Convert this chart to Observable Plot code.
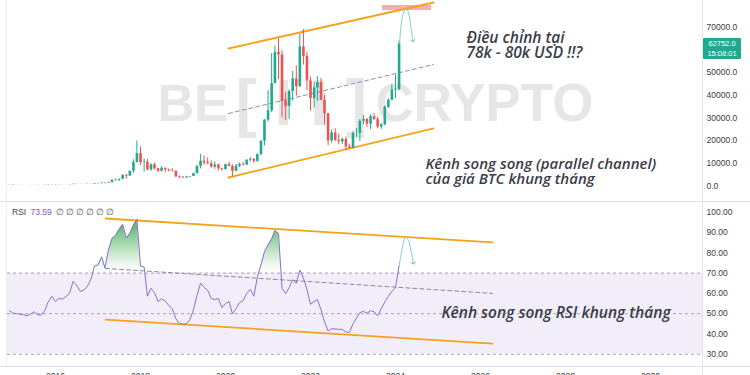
<!DOCTYPE html>
<html><head><meta charset="utf-8">
<script src="https://cdn.jsdelivr.net/npm/d3@7"></script>
<script src="https://cdn.jsdelivr.net/npm/@observablehq/plot@0.6"></script>
<style>
html,body{margin:0;padding:0;background:#fff;overflow:hidden;width:750px;height:375px}
#wrap{position:relative;width:750px;height:375px;overflow:hidden;background:#fff}
#wrap svg{position:absolute;left:0;overflow:visible}
.ln{position:absolute;background:#e0e3eb}
</style></head><body><div id="wrap"></div>
<script>
// ---------- DATA (monthly BTC/USD, Dec 2014 .. Feb 2024) ----------
const firstMonth = "2014-12";
const lastMonth = "2024-02";
const open = [378,320,217,254,244,236,230,263,284,230,236,314,378,430,369,437,416,448,531,673,624,575,609,701,742,964,970,1190,1080,1348,2300,2480,2875,4703,4338,6468,10233,14156,10221,10397,6973,9240,7494,6404,7780,7037,6625,6371,4017,3742,3457,3854,4105,5350,8574,10817,10085,9630,8293,9199,7569,7193,9350,8543,6424,8658,9461,9138,11323,11680,10784,13804,19700,28990,33114,45137,58918,57750,37332,35040,41626,47166,43790,61318,57005,46306,38483,43193,45538,37714,31792,19785,23336,20050,19431,20495,17168,16547,23139,23147,28478,29268,27219,30477,29230,25940,26967,34667,37712,42265,42580];
const high = [382,320,265,300,262,247,268,315,285,247,330,502,465,462,448,440,467,548,775,703,627,628,720,755,980,1162,1210,1295,1350,2790,2980,2925,4750,5000,6470,11500,19800,17200,11800,11700,9760,10000,7760,8500,7800,7410,7680,6600,4300,4110,4200,4140,5620,9100,13880,13200,12330,10950,10540,9530,7750,9580,10500,9190,9460,10070,10380,11440,12480,12070,14100,19860,29300,41950,58350,61780,64900,59600,41300,42400,50500,52900,67000,69000,59040,47990,45820,48190,47440,39980,31980,24670,25210,22800,21090,21480,18390,23960,25250,29190,31000,29820,31430,31800,30230,27480,35200,38430,44730,48970,64000];
const low = [310,170,212,236,215,228,220,254,198,225,236,310,345,353,366,406,416,438,528,605,535,570,605,693,740,752,940,890,1060,1350,2100,1830,2680,2980,4110,5500,10900,9000,6000,6600,6430,7000,5780,6080,5880,6100,6200,3550,3150,3350,3370,3850,4040,5350,7450,9070,9320,7710,7300,6515,6430,6870,8450,3850,6150,8120,8900,8900,10530,9880,10380,13220,17570,28130,32300,44950,47000,30000,28800,29300,37330,39600,43300,53300,42000,32950,34320,37160,37580,26700,17620,18780,19520,18130,18190,15480,16260,16500,21400,19570,26940,25810,24800,28860,25170,24900,26540,34100,37620,38560,41880];
const close = [320,217,254,244,236,230,263,284,230,236,314,378,430,369,437,416,448,531,673,624,575,609,701,742,964,970,1190,1080,1348,2300,2480,2875,4703,4338,6468,10233,14156,10221,10397,6973,9240,7494,6404,7780,7037,6625,6371,4017,3742,3457,3854,4105,5350,8574,10817,10085,9630,8293,9199,7569,7193,9350,8543,6424,8658,9461,9138,11323,11680,10784,13804,19700,28990,33114,45137,58918,57750,37332,35040,41626,47166,43790,61318,57005,46306,38483,43193,45538,37714,31792,19785,23336,20050,19431,20495,17168,16547,23139,23147,28478,29268,27219,30477,29230,25940,26967,34667,37712,42265,42580,62752];
const rsi = [51.5,50.2,50,49.8,49.5,49,49.8,51,49.5,49.3,51.5,56,58.5,56,57.6,57.2,58.5,60,66,64,61,61.5,63.5,67,73.5,74,78,72.5,81.5,87,88.5,91.5,94,87.3,89.5,93.5,96.5,73.4,73,58.6,62.5,60.3,56,57.3,56.3,54,52.5,47.5,45.3,44.7,45.2,47,52,59,65,63,61.5,57.5,57,57.5,53,55,56,50,52.5,55.5,56.5,60,62,58.6,68,74,80.5,84,86.7,91,89.5,62.5,60,62.8,66.8,65,71.5,67.5,62,54.6,56,57,52,46,41.5,42.6,42.5,42.3,42.3,41,40.8,45,48,50.5,51.2,50.2,51.5,51,48.9,52.5,55.8,58.5,61,62.8,73.59];
const rsiNow = "73.59";
const lastPrice = "62752.0";
const countdown = "15:08:01";

// channels & annotations (year fraction, value)
const priceUpper = [[2020.07, 60618], [2024.894, 80927]];
const priceLower = [[2020.07, 3664], [2024.894, 25298]];
const priceMid = [[2020.07, 31920], [2024.894, 53554]];
const targetZone = {x1: 2023.694, x2: 2024.847, y1: 77400, y2: 79600};
const priceProjection = [[2024.096, 62752], [2024.13, 70400], [2024.18, 75800], [2024.25, 78500], [2024.31, 76100], [2024.36, 70400], [2024.41, 64000]];
const rsiUpper = [[2017.176, 96.9], [2026.282, 85.1]];
const rsiLower = [[2017.176, 47.1], [2026.282, 35.3]];
const rsiMid = [[2017.176, 72.3], [2026.282, 60.0]];
const rsiProjection = [[2024.085, 73.59], [2024.141, 80.1], [2024.188, 85.1], [2024.235, 87.5], [2024.306, 86.1], [2024.365, 81.1], [2024.42, 74.9]];
const priceTicks = [0, 10000, 20000, 30000, 40000, 50000, 70000];
const rsiTicks = [30, 40, 50, 60, 70, 80, 90, 100];
const rsiLevels = [70, 50, 30];
const yearTicks = [2016, 2018, 2020, 2022, 2024, 2026, 2028, 2030];
const annPrice1 = ["Điều chỉnh tại", "78k - 80k USD !!?"];
const annPrice2 = ["Kênh song song (parallel channel)", "của giá BTC khung tháng"];
const annRsi = "Kênh song song RSI khung tháng";

// ---------- helpers ----------
function yr(y){const Y=Math.floor(y);const a=Date.UTC(Y,0,1),b=Date.UTC(Y+1,0,1);return new Date(a+(y-Y)*(b-a));}
const pts = arr => arr.map(([t,v]) => ({date: yr(t), v}));
const months = d3.utcMonth.range(new Date(firstMonth+"-01"), d3.utcMonth.offset(new Date(lastMonth+"-01"),1));
const candles = months.map((date,i)=>({date,o:open[i],h:high[i],l:low[i],c:close[i],r:rsi[i]}));
const GREEN="#22a88f", RED="#ef5350", ORANGE="#f7a11a";
const xDomain=[yr(2014.8706), yr(2031.2235)];
const font="Liberation Sans, Arial, sans-serif";
const annFont="Open Sans, DejaVu Sans, sans-serif";
const wrap=document.getElementById("wrap");
const annStyle={textAnchor:"start",lineAnchor:"bottom",fontStyle:"italic",fontWeight:600,fill:"#3c3c48",fontFamily:annFont,frameAnchor:"top-left"};

// ---------- price pane ----------
const pricePlot = Plot.plot({
  width:750, height:201, marginLeft:7, marginRight:48, marginTop:0, marginBottom:0,
  x:{type:"utc", domain:xDomain, axis:null},
  y:{domain:[-6932,81810], axis:"right", ticks:priceTicks, tickFormat:d=>d.toFixed(1), tickSize:0, tickPadding:4, label:null},
  color:{type:"identity"},
  style:{fontFamily:font, fontSize:"8.5px", color:"#3a3a3a", background:"transparent"},
  marks:[
    Plot.text(["BE"],{text:d=>d,frameAnchor:"top-left",dx:150,dy:104,textAnchor:"start",lineAnchor:"middle",fontSize:51,fontWeight:"bold",fill:"#e6e6e6",fontFamily:font}),
    Plot.text(["[ I I ]"],{text:d=>d,frameAnchor:"top-left",dx:228,dy:104,textAnchor:"start",lineAnchor:"middle",fontSize:64,fontWeight:"bold",fill:"#e6e6e6",fontFamily:font}),
    Plot.text(["CRYPTO"],{text:d=>d,frameAnchor:"top-left",dx:368,dy:104,textAnchor:"start",lineAnchor:"middle",fontSize:53,fontWeight:"bold",fill:"#e6e6e6",fontFamily:font}),
    Plot.rect([targetZone],{x1:d=>yr(d.x1),x2:d=>yr(d.x2),y1:"y1",y2:"y2",fill:"#f47f85",fillOpacity:0.65}),
    Plot.line(pts(priceUpper),{x:"date",y:"v",stroke:ORANGE,strokeWidth:1.8}),
    Plot.line(pts(priceLower),{x:"date",y:"v",stroke:ORANGE,strokeWidth:1.8}),
    Plot.line(pts(priceMid),{x:"date",y:"v",stroke:"#9a86b6",strokeWidth:1,strokeDasharray:"4,3"}),
    Plot.ruleX(candles,{x:"date",y1:"l",y2:"h",stroke:d=>d.c>=d.o?GREEN:RED,strokeWidth:1}),
    Plot.ruleX(candles,{x:"date",y1:"o",y2:"c",stroke:d=>d.c>=d.o?GREEN:RED,strokeWidth:2.6}),
    Plot.line(pts(priceProjection),{x:"date",y:"v",stroke:"#86c9c2",strokeWidth:1,curve:"catmull-rom",markerEnd:"arrow"}),
    Plot.text([annPrice1[0]],{...annStyle,text:d=>d,dx:459,dy:42,fontSize:15.5}),
    Plot.text([annPrice1[1]],{...annStyle,text:d=>d,dx:459,dy:57.5,fontSize:15.5}),
    Plot.text([annPrice2[0]],{...annStyle,text:d=>d,dx:418,dy:168,fontSize:15}),
    Plot.text([annPrice2[1]],{...annStyle,text:d=>d,dx:418,dy:183.5,fontSize:15})
  ]
});
pricePlot.style.top="0px";
wrap.appendChild(pricePlot);

// ---------- RSI pane ----------
const rsiPlot = Plot.plot({
  width:750, height:180, marginLeft:7, marginRight:48, marginTop:0, marginBottom:16,
  x:{type:"utc", domain:xDomain, ticks:yearTicks.map(y=>yr(y)), tickFormat:d3.utcFormat("%Y"), tickSize:0, tickPadding:6, label:null},
  y:{domain:[24,104.78], axis:"right", ticks:rsiTicks, tickFormat:d=>d.toFixed(2), tickSize:0, tickPadding:4, label:null},
  style:{fontFamily:font, fontSize:"8.5px", color:"#3a3a3a", background:"transparent"},
  marks:[
    Plot.rect([{lo:30,hi:70}],{y1:"lo",y2:"hi",fill:"#7e57c2",fillOpacity:0.1}),
    Plot.ruleY(rsiLevels,{stroke:"#8d8a99",strokeDasharray:"3,3",strokeOpacity:0.75}),
    Plot.areaY(candles,{x:"date",y1:70,y2:d=>Math.max(70,d.r),fill:"url(#obGrad)"}),
    Plot.line(pts(rsiUpper),{x:"date",y:"v",stroke:ORANGE,strokeWidth:1.8}),
    Plot.line(pts(rsiLower),{x:"date",y:"v",stroke:ORANGE,strokeWidth:1.8}),
    Plot.line(pts(rsiMid),{x:"date",y:"v",stroke:"#8e84a6",strokeWidth:1,strokeDasharray:"4,3"}),
    Plot.line(candles,{x:"date",y:"r",stroke:"#8c6fcc",strokeWidth:1}),
    Plot.line(pts(rsiProjection),{x:"date",y:"v",stroke:"#86c9c2",strokeWidth:1,curve:"catmull-rom",markerEnd:"arrow"}),
    Plot.text([annRsi],{...annStyle,text:d=>d,dx:434,dy:115,fontSize:15.5})
  ]
});
{
  const ys=rsiPlot.scale("y");
  const y100=ys.apply(100), y70=ys.apply(70);
  const ns="http://www.w3.org/2000/svg";
  const defs=document.createElementNS(ns,"defs");
  defs.innerHTML=`<linearGradient id="obGrad" gradientUnits="userSpaceOnUse" x1="0" x2="0" y1="${y100}" y2="${y70}"><stop offset="0" stop-color="#1f8f3a" stop-opacity="0.95"/><stop offset="0.6" stop-color="#5cb86a" stop-opacity="0.45"/><stop offset="1" stop-color="#a5d6a7" stop-opacity="0"/></linearGradient>`;
  rsiPlot.insertBefore(defs, rsiPlot.firstChild);
}
rsiPlot.style.top="202px";
wrap.appendChild(rsiPlot);

// ---------- pane borders, price label, RSI legend ----------
function line(l,t,w,h,c){const d=document.createElement("div");d.className="ln";d.style.cssText=`left:${l}px;top:${t}px;width:${w}px;height:${h}px;`+(c?`background:${c}`:"");wrap.appendChild(d);}
line(0,201,750,1);
line(0,366,750,1);
line(702,0,1,375);
line(6,0,1,366,"#eeeeee");
const tag=document.createElement("div");
tag.style.cssText=`position:absolute;left:703px;top:38px;width:38px;height:21px;background:${GREEN};color:#fff;font:7.5px ${font};line-height:9.5px;text-align:center;padding-top:1px;box-sizing:border-box;border-radius:1px`;
tag.innerHTML=`${lastPrice}<br>${countdown}`;
wrap.appendChild(tag);
const leg=document.createElement("div");
leg.style.cssText=`position:absolute;left:12px;top:207px;font:8.5px ${font};color:#444;white-space:nowrap`;
leg.innerHTML=`RSI <span style="color:#7e57c2;margin-left:2px">${rsiNow}</span>`+Array(6).fill(0).map((_,i)=>`<span style="display:inline-block;width:10px;margin-left:${i?0:4}px;color:#555">∅</span>`).join("");
wrap.appendChild(leg);
</script></body></html>
